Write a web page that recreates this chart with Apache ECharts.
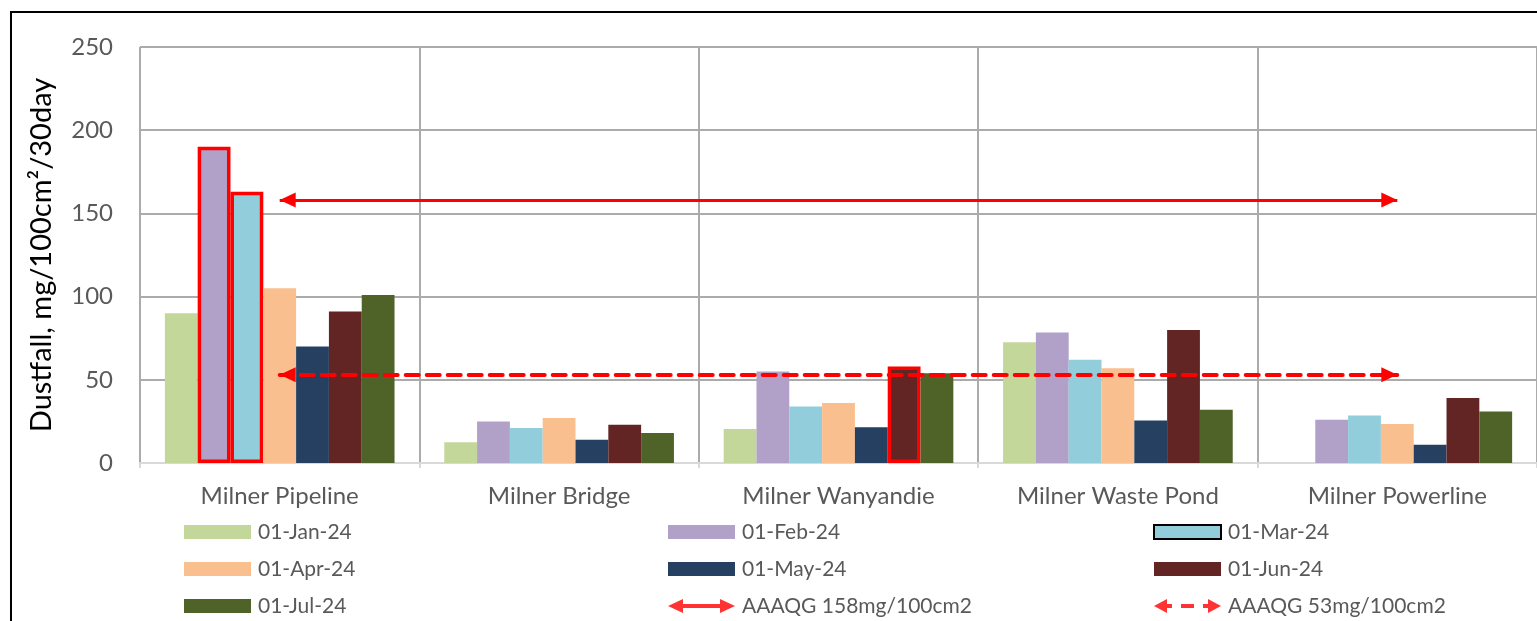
<!DOCTYPE html>
<html>
<head>
<meta charset="utf-8">
<style>
  html, body { margin: 0; padding: 0; background: #fff; }
  #chart { width: 1537px; height: 621px; }
</style>
<script src="https://cdn.jsdelivr.net/npm/echarts@6/dist/echarts.min.js"></script>
</head>
<body>
<div id="chart"></div>
<script>
// Monitoring sites and monthly dustfall results (mg/100cm²/30day)
const sites = ['Milner Pipeline', 'Milner Bridge', 'Milner Wanyandie', 'Milner Waste Pond', 'Milner Powerline'];
const months = ['01-Jan-24', '01-Feb-24', '01-Mar-24', '01-Apr-24', '01-May-24', '01-Jun-24', '01-Jul-24'];
const jan = [90, 12.5, 20.5, 72.5, null];
const feb = [190, 25, 55, 78.5, 26];
const mar = [163, 21, 34, 62, 28.5];
const apr = [105, 27, 36, 57, 23.5];
const may = [70, 14, 21.5, 25.5, 11];
const jun = [91, 23, 58, 80, 39];
const jul = [101, 18, 54, 32, 31];
const monthValues = [jan, feb, mar, apr, may, jun, jul];
const monthColors = ['#C4D79B', '#B1A0C7', '#92CDDC', '#FABF8F', '#254061', '#632523', '#4F6228'];

// Results above the guideline, outlined in red: [month index, site index]
const exceedances = [[1, 0], [2, 0], [5, 2]];

// Alberta Ambient Air Quality Guidelines
const guideNames = ['AAAQG 158mg/100cm2', 'AAAQG 53mg/100cm2'];
const guideValues = [158, 53];

const yTicks = { min: 0, max: 250, interval: 50 };

const FONT = 'Lato';
const GREY = '#595959';
const RED = '#FF0000';

const barSeries = months.map((m, mi) => ({
  name: m,
  type: 'bar',
  barGap: 0,
  barCategoryGap: '17.8%',
  itemStyle: { color: monthColors[mi] },
  data: monthValues[mi].map((v, si) => {
    const hit = exceedances.some(e => e[0] === mi && e[1] === si);
    return hit ? { value: v, itemStyle: { borderColor: RED, borderWidth: 3.5 } } : v;
  })
}));

// Arrowhead whose tip sits at the centre of its box, so the tip lands on the line end
const arrowHead = 'path://M5,0 M5,10 L10,20 L0,20 Z';

function guideSeries(idx, dashed) {
  return {
    name: guideNames[idx],
    type: 'scatter',
    data: [],
    itemStyle: { color: RED },
    z: 6,
    markLine: {
      silent: true,
      animation: false,
      symbol: [arrowHead, arrowHead],
      symbolSize: [15, 32],
      label: { show: false },
      lineStyle: dashed
        ? { color: RED, width: 4, type: [13, 8], cap: 'round' }
        : { color: RED, width: 3, type: 'solid' },
      emphasis: { disabled: true },
      data: [[
        { coord: [0, guideValues[idx]] },
        { coord: [sites.length - 1, guideValues[idx]] }
      ]]
    }
  };
}

// Legend icons for the guideline entries, drawn in a 67x14 box
const solidArrowIcon = 'path://M0,7 L15,0 L15,5 L52,5 L52,0 L67,7 L52,14 L52,9 L15,9 L15,14 Z';
const dashedArrowIcon = 'path://M0,7 L13,0 L13,5 L18,5 L18,9 L13,9 L13,14 Z ' +
  'M27,5 L40,5 L40,9 L27,9 Z M49,5 L54,5 L54,0 L67,7 L54,14 L54,9 L49,9 Z';

const legendText = { color: GREY, fontFamily: FONT, fontSize: 21, lineHeight: 22, padding: [0, 0, 0, 2] };
function legendColumn(left, items) {
  return {
    orient: 'vertical',
    left: left,
    top: 521,
    height: 100,
    padding: 0,
    itemWidth: 67,
    itemHeight: 14,
    itemGap: 15,
    symbolKeepAspect: false,
    selectedMode: false,
    textStyle: legendText,
    data: items
  };
}

const chart = echarts.init(document.getElementById('chart'), null, { renderer: 'canvas' });
chart.setOption({
  animation: false,
  backgroundColor: '#fff',
  graphic: [{
    type: 'rect',
    silent: true,
    shape: { x: 11, y: 12, width: 2000, height: 2000 },
    style: { fill: 'none', stroke: '#000', lineWidth: 2 }
  }],
  grid: { left: 140, right: 0, top: 47, bottom: 158 },
  legend: [
    legendColumn(184, [
      { name: months[0], icon: 'rect' },
      { name: months[3], icon: 'rect' },
      { name: months[6], icon: 'rect' }
    ]),
    legendColumn(668, [
      { name: months[1], icon: 'rect' },
      { name: months[4], icon: 'rect' },
      { name: guideNames[0], icon: solidArrowIcon }
    ]),
    legendColumn(1153, [
      { name: months[2], icon: 'rect', itemStyle: { borderColor: '#000', borderWidth: 2 } },
      { name: months[5], icon: 'rect' },
      { name: guideNames[1], icon: dashedArrowIcon }
    ])
  ],
  xAxis: {
    type: 'category',
    data: sites,
    axisLine: { show: true, lineStyle: { color: '#D9D9D9', width: 2 } },
    axisTick: { show: true, interval: 0, length: 5, lineStyle: { color: '#D9D9D9', width: 2 } },
    axisLabel: { color: GREY, fontFamily: FONT, fontSize: 24, margin: 21, interval: 0 },
    splitLine: { show: true, interval: 0, lineStyle: { color: '#ABABAB', width: 2 } }
  },
  yAxis: {
    type: 'value',
    min: yTicks.min,
    max: yTicks.max,
    interval: yTicks.interval,
    name: 'Dustfall, mg/100cm²/30day',
    nameLocation: 'middle',
    nameGap: 84,
    nameTextStyle: { color: '#000', fontFamily: FONT, fontSize: 29 },
    axisLine: { show: false },
    axisTick: { show: false },
    axisLabel: { color: GREY, fontFamily: FONT, fontSize: 24, margin: 27 },
    splitLine: { show: true, lineStyle: { color: '#ABABAB', width: 2 } }
  },
  series: barSeries.concat([guideSeries(0, false), guideSeries(1, true)])
});
</script>
</body>
</html>
